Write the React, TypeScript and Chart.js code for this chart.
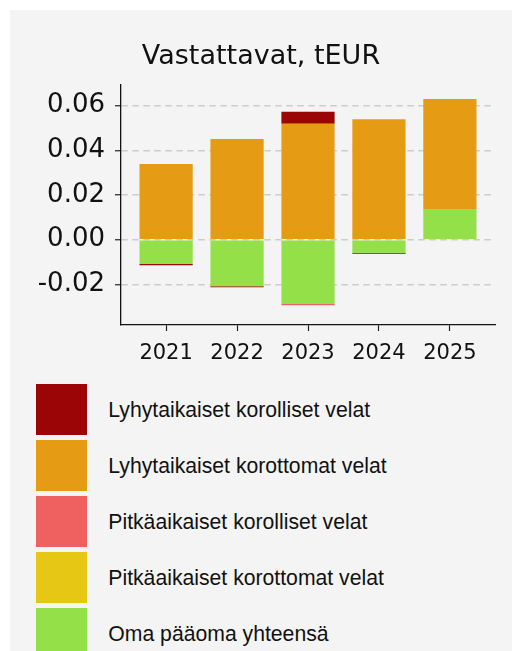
import React, { useEffect, useRef } from "react";
import { Chart, registerables } from "chart.js";

Chart.register(...registerables);

// ---- data ----
const years = ["2021", "2022", "2023", "2024", "2025"];

const lyhytaikaisetKorolliset = [-0.0005, -0.0005, 0.0054, -0.0005, -0.0004];
const lyhytaikaisetKorottomat = [0.0339, 0.0451, 0.0519, 0.054, 0.0492];
const pitkaaikaisetKorolliset = [0, 0, -0.0005, 0, 0];
const pitkaaikaisetKorottomat = [0, 0, 0, 0, 0];
const omaPaaoma = [-0.0109, -0.0208, -0.0288, -0.0058, 0.0138];

const title = "Vastattavat, tEUR";
const yMin = -0.0382;
const yMax = 0.0696;
const yStep = 0.02;

// stacking order: first entry sits nearest zero
const series = [
  { label: "Oma pääoma yhteensä", data: omaPaaoma, color: "#94e048" },
  { label: "Pitkäaikaiset korottomat velat", data: pitkaaikaisetKorottomat, color: "#e6c814" },
  { label: "Pitkäaikaiset korolliset velat", data: pitkaaikaisetKorolliset, color: "#ef6060" },
  { label: "Lyhytaikaiset korottomat velat", data: lyhytaikaisetKorottomat, color: "#e59c14" },
  { label: "Lyhytaikaiset korolliset velat", data: lyhytaikaisetKorolliset, color: "#9b0505" },
];

const legendItems = [...series].reverse();

export default function App() {
  const canvasRef = useRef<HTMLCanvasElement | null>(null);

  useEffect(() => {
    if (!canvasRef.current) return;
    const chart = new Chart(canvasRef.current, {
      type: "bar",
      data: {
        datasets: series.map((s) => ({
          label: s.label,
          data: s.data.map((v, i) => ({ x: i, y: v })),
          backgroundColor: s.color,
          borderWidth: 0,
          categoryPercentage: 1,
          barPercentage: 0.75,
        })),
      },
      options: {
        animation: false,
        responsive: true,
        maintainAspectRatio: false,
        layout: { padding: { left: 17, right: 17, top: 0, bottom: 3.8 } },
        plugins: {
          legend: { display: false },
          tooltip: { enabled: false },
          title: {
            display: true,
            text: title,
            color: "#111",
            font: { family: "DejaVu Sans", size: 27, weight: "normal" },
            padding: { top: 30.4, bottom: 11.5 },
          },
        },
        scales: {
          x: {
            type: "linear",
            min: -0.636,
            max: 4.636,
            stacked: true,
            offset: false,
            afterBuildTicks: (scale: any) => {
              scale.ticks = years.map((_, i) => ({ value: i }));
            },
            grid: {
              display: true,
              offset: false,
              drawOnChartArea: false,
              drawTicks: true,
              tickLength: 6,
              tickColor: "#222",
              tickWidth: 1.2,
            },
            border: { display: true, color: "#111", width: 1.3 },
            ticks: {
              autoSkip: false,
              maxRotation: 0,
              padding: 10,
              color: "#111",
              font: { family: "DejaVu Sans", size: 21 },
              callback: (v: any) => years[Math.round(Number(v))] ?? "",
            },
          },
          y: {
            stacked: true,
            min: yMin,
            max: yMax,
            afterFit: (scale: any) => {
              scale.width = 94;
            },
            grid: {
              color: "#cccccc",
              lineWidth: 1.5,
              drawTicks: true,
              tickLength: 6,
              tickColor: "#222",
              tickWidth: 1.2,
              tickBorderDash: [],
            },
            border: { display: true, color: "#111", width: 1.3, dash: [6.5, 4.5] },
            ticks: {
              stepSize: yStep,
              includeBounds: false,
              padding: 10,
              color: "#111",
              font: { family: "DejaVu Sans", size: 26 },
              callback: (v: any) => {
                const n = Number(v);
                return (Math.abs(n) < 1e-9 ? 0 : n).toFixed(2);
              },
            },
          },
        },
      },
    });
    return () => chart.destroy();
  }, []);

  return (
    <div
      style={{
        position: "absolute",
        left: 10,
        top: 10,
        width: 502,
        height: 641,
        background: "#f4f4f4",
        overflow: "hidden",
      }}
    >
      <div style={{ position: "relative", width: 502, height: 370 }}>
        <canvas ref={canvasRef} />
      </div>
      <div style={{ marginTop: 4 }}>
        {legendItems.map((s) => (
          <div
            key={s.label}
            style={{ display: "flex", alignItems: "center", height: 51, marginBottom: 5 }}
          >
            <div style={{ marginLeft: 26, width: 51, height: 51, background: s.color, flex: "none" }} />
            <span
              style={{
                marginLeft: 21.3,
                fontFamily: '"Liberation Sans", Arial, sans-serif',
                fontSize: 21.2,
                color: "#111",
                whiteSpace: "nowrap",
              }}
            >
              {s.label}
            </span>
          </div>
        ))}
      </div>
    </div>
  );
}
